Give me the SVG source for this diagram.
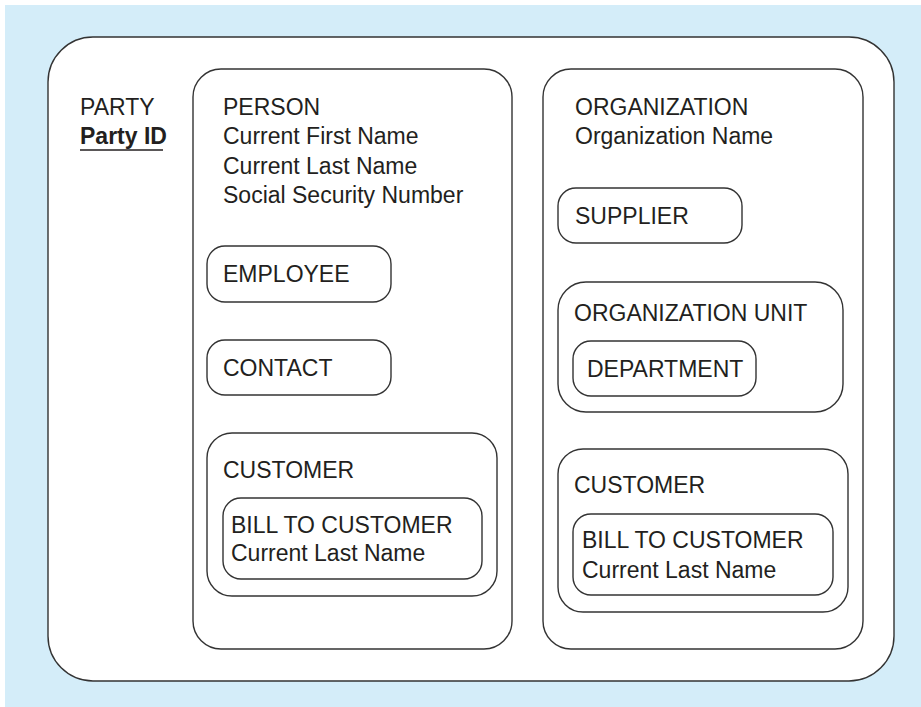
<svg xmlns="http://www.w3.org/2000/svg" width="921" height="707" viewBox="0 0 921 707">
<style>
.box{fill:#fff;stroke:#333;stroke-width:1.4}
.t{font-family:"Liberation Sans",Arial,sans-serif;font-size:23px;fill:#231f20}
.b{font-weight:bold}
</style>
<rect x="0" y="0" width="921" height="707" fill="#fff"/>
<rect x="5" y="5" width="916" height="702" fill="#d4edf9"/>
<g id="party">
<rect class="box" x="48" y="37" width="846" height="644" rx="45" ry="45"/>
<text class="t" x="80" y="115">PARTY</text>
<text class="t b" x="80" y="144">Party ID</text>
<line x1="80" y1="150" x2="163" y2="150" stroke="#231f20" stroke-width="1.5"/>
</g>
<g id="person">
<rect class="box" x="193" y="69" width="319" height="580" rx="28" ry="28"/>
<text class="t" x="223" y="115">PERSON</text>
<text class="t" x="223" y="144">Current First Name</text>
<text class="t" x="223" y="174">Current Last Name</text>
<text class="t" x="223" y="203">Social Security Number</text>
</g>
<g id="employee">
<rect class="box" x="207" y="246" width="184" height="56" rx="18" ry="18"/>
<text class="t" x="223" y="282">EMPLOYEE</text>
</g>
<g id="contact">
<rect class="box" x="207" y="340" width="184" height="55" rx="18" ry="18"/>
<text class="t" x="223" y="376">CONTACT</text>
</g>
<g id="person-customer">
<rect class="box" x="207" y="433" width="290" height="163" rx="25" ry="25"/>
<text class="t" x="223" y="478">CUSTOMER</text>
</g>
<g id="person-bill-to-customer">
<rect class="box" x="223" y="498" width="259" height="81" rx="18" ry="18"/>
<text class="t" x="231" y="533">BILL TO CUSTOMER</text>
<text class="t" x="231" y="561">Current Last Name</text>
</g>
<g id="organization">
<rect class="box" x="543" y="69" width="320" height="580" rx="28" ry="28"/>
<text class="t" x="575" y="115">ORGANIZATION</text>
<text class="t" x="575" y="144">Organization Name</text>
</g>
<g id="supplier">
<rect class="box" x="558" y="188" width="184" height="55" rx="18" ry="18"/>
<text class="t" x="575" y="224">SUPPLIER</text>
</g>
<g id="organization-unit">
<rect class="box" x="558" y="282" width="285" height="130" rx="28" ry="28"/>
<text class="t" x="574" y="321">ORGANIZATION UNIT</text>
</g>
<g id="department">
<rect class="box" x="573" y="341" width="183" height="55" rx="18" ry="18"/>
<text class="t" x="587" y="377">DEPARTMENT</text>
</g>
<g id="org-customer">
<rect class="box" x="558" y="449" width="290" height="163" rx="25" ry="25"/>
<text class="t" x="574" y="493">CUSTOMER</text>
</g>
<g id="org-bill-to-customer">
<rect class="box" x="573" y="514" width="260" height="81" rx="18" ry="18"/>
<text class="t" x="582" y="548">BILL TO CUSTOMER</text>
<text class="t" x="582" y="578">Current Last Name</text>
</g>
<g id="connectors"></g>
</svg>
